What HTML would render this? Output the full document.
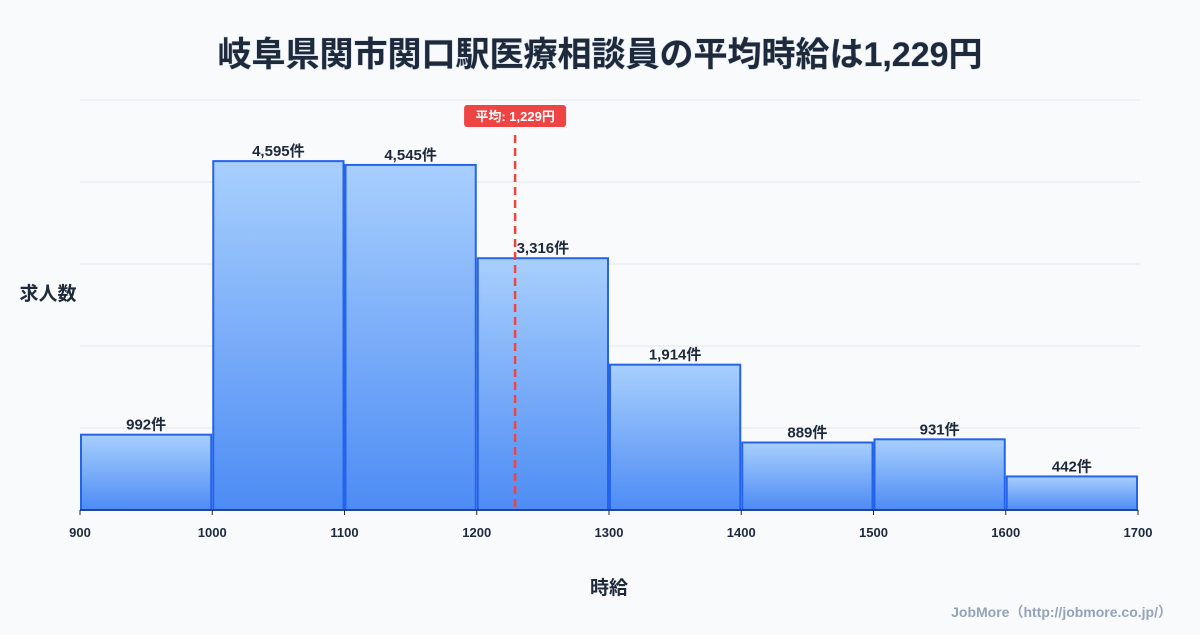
<!DOCTYPE html>
<html><head><meta charset="utf-8"><style>
html,body{margin:0;padding:0;background:#f8fafc;}
svg text{font-family:"Liberation Sans","Noto Sans CJK JP",sans-serif;}
</style></head><body>
<svg id="chart" width="1200" height="630" viewBox="0 0 1200 630">
<defs><linearGradient id="g" x1="0" y1="0" x2="0" y2="1"><stop offset="0" stop-color="#a8cffd"/><stop offset="1" stop-color="#4d8cf5"/></linearGradient></defs>
<rect width="1200" height="630" fill="#f8fafc"/>
<text x="600" y="66" text-anchor="middle" font-size="34" font-weight="bold" fill="#1e293b" style="paint-order:stroke" stroke="#cbd5e1" stroke-width="1">岐阜県関市関口駅医療相談員の平均時給は1,229円</text>
<g id="grid"></g>
<g id="bars"></g>
<g id="xaxis"></g>
<text x="48" y="300" text-anchor="middle" font-size="19" font-weight="bold" fill="#1e293b">求人数</text>
<text x="609" y="594" text-anchor="middle" font-size="19" font-weight="bold" fill="#1e293b">時給</text>
<text x="1172" y="617" text-anchor="end" font-size="14" font-weight="bold" fill="#94a3b8">JobMore（http://jobmore.co.jp/）</text>
<g id="mean"></g>
</svg>
<script>
const binStarts=[900,1000,1100,1200,1300,1400,1500,1600];
const counts=[992,4595,4545,3316,1914,889,931,442];
const xTicks=[900,1000,1100,1200,1300,1400,1500,1600,1700];
const meanValue=1229;
const NS="http://www.w3.org/2000/svg";
const x0=80,x1=1138,xMin=900,xMax=1700,yBase=510,yTop=100,yMax=5400;
const X=v=>x0+(v-xMin)/(xMax-xMin)*(x1-x0);
const Y=v=>yBase-v/yMax*(yBase-yTop);
function mk(t,a,p){const e=document.createElementNS(NS,t);for(const k in a)e.setAttribute(k,a[k]);p.appendChild(e);return e;}
const grid=document.getElementById('grid');
for(let i=0;i<=5;i++){const y=yBase-i*(yBase-yTop)/5;
const l=mk('line',{x1:x0,x2:1140,y1:y,y2:y,stroke:'#e2e8f0','stroke-width':1},grid);

}
const bars=document.getElementById('bars');
binStarts.forEach((b,i)=>{
const xa=X(b)+1,xb=X(b+100)-1,y=Y(counts[i]);
const r=mk('rect',{x:xa,y:y,width:xb-xa,height:yBase-y,fill:'url(#g)',stroke:'#2563eb','stroke-width':2},bars);


const t=mk('text',{x:(xa+xb)/2,y:y-5,'text-anchor':'middle','font-size':15,'font-weight':'bold',fill:'#1e293b'},bars);
t.textContent=counts[i].toLocaleString('en-US')+'件';


});
const xa=document.getElementById('xaxis');
const al=mk('line',{x1:x0,x2:x1,y1:yBase,y2:yBase,stroke:'#1e293b','stroke-width':1},xa);


xTicks.forEach(v=>{
const tk=mk('line',{x1:X(v),x2:X(v),y1:yBase,y2:yBase+5,stroke:'#1e293b','stroke-width':1},xa);


const t=mk('text',{x:X(v),y:537,'text-anchor':'middle','font-size':13,'font-weight':'bold',fill:'#1e293b'},xa);
t.textContent=v;


});
const m=document.getElementById('mean');
const mx=X(meanValue);
const ml=mk('line',{x1:mx,x2:mx,y1:135,y2:yBase,stroke:'#ef4444','stroke-width':2.5,'stroke-dasharray':'8,5'},m);


const mb=mk('rect',{x:mx-51,y:105,width:102,height:22,rx:3,fill:'#ef4444'},m);


const mt=mk('text',{x:mx,y:121,'text-anchor':'middle','font-size':13,'font-weight':'bold',fill:'#fff'},m);
mt.textContent='平均: '+meanValue.toLocaleString('en-US')+'円';


</script>
</body></html>
